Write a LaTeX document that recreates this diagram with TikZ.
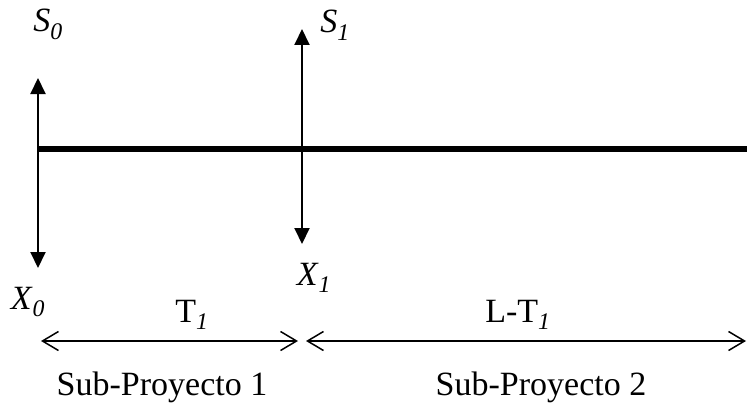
\documentclass[tikz,border=0pt]{standalone}
\usepackage{fontspec}
\setmainfont{Liberation Serif}
\usetikzlibrary{arrows.meta}
\tikzset{
  lbl/.style={inner sep=0pt, anchor=base, font=\fontsize{34}{38}\selectfont},
  axis/.style={line width=6pt},
  flow/.style={line width=2pt, -{Triangle[length=16pt,width=15pt]}},
  span/.style={line width=1.5pt, {Straight Barb[length=16pt,width=19pt]}-{Straight Barb[length=16pt,width=19pt]}}
}
\newcommand{\isub}[2]{\textit{#1}\textsubscript{\textit{#2}}}
\begin{document}
\begin{tikzpicture}[x=1pt,y=-1pt]
\useasboundingbox (0,0) rectangle (747,404);
% main line
\coordinate (a0) at (38,149);
\coordinate (a1) at (302,149);
\coordinate (aend) at (747,149);
\draw[axis] (a0) -- (aend);
% vertical arrows
\coordinate (s0t) at (38,78);
\coordinate (x0b) at (38,268);
\coordinate (s1t) at (302,29);
\coordinate (x1b) at (302,244);
\draw[flow] (a0) -- (s0t);
\draw[flow] (a0) -- (x0b);
\draw[flow] (a1) -- (s1t);
\draw[flow] (a1) -- (x1b);
% labels
\node[lbl] (S0) at (48,32) {\isub{S}{0}};
\node[lbl] (S1) at (335,33) {\isub{S}{1}};
\node[lbl] (X0) at (28,309) {\isub{X}{0}};
\node[lbl] (X1) at (314,285) {\isub{X}{1}};
% spans
\coordinate (p0) at (41,341);
\coordinate (p1) at (298,341);
\coordinate (p2) at (306,341);
\coordinate (p3) at (746,341);
\draw[span] (p0) -- (p1);
\draw[span] (p2) -- (p3);
\node[lbl] (T1) at (192,322) {T\textsubscript{\textit{1}}};
\node[lbl] (LT1) at (518,322) {L-T\textsubscript{\textit{1}}};
\node[lbl] (sp1) at (162,395) {Sub-Proyecto 1};
\node[lbl] (sp2) at (541,395) {Sub-Proyecto 2};
\end{tikzpicture}
\end{document}
